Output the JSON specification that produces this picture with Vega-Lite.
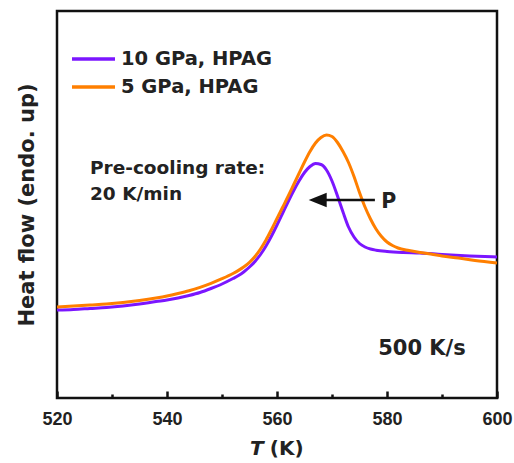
{
  "$schema": "https://vega.github.io/schema/vega-lite/v6.json",
  "width": 440,
  "height": 387,
  "autosize": "none",
  "padding": {"left": 57, "top": 11, "right": 17, "bottom": 65},
  "background": "white",
  "config": {
    "view": {"stroke": "#111", "strokeWidth": 2.5},
    "font": "DejaVu Sans"
  },
  "datasets": {
    "curves": [
      {"T": 520, "hf": 88, "series": "10 GPa, HPAG"},
      {"T": 523, "hf": 88.5, "series": "10 GPa, HPAG"},
      {"T": 526, "hf": 89.5, "series": "10 GPa, HPAG"},
      {"T": 529, "hf": 90.5, "series": "10 GPa, HPAG"},
      {"T": 532, "hf": 92, "series": "10 GPa, HPAG"},
      {"T": 535, "hf": 94, "series": "10 GPa, HPAG"},
      {"T": 538, "hf": 96.5, "series": "10 GPa, HPAG"},
      {"T": 540, "hf": 98, "series": "10 GPa, HPAG"},
      {"T": 542, "hf": 100, "series": "10 GPa, HPAG"},
      {"T": 544, "hf": 102.5, "series": "10 GPa, HPAG"},
      {"T": 546, "hf": 105.5, "series": "10 GPa, HPAG"},
      {"T": 548, "hf": 109.5, "series": "10 GPa, HPAG"},
      {"T": 550, "hf": 114, "series": "10 GPa, HPAG"},
      {"T": 552, "hf": 119.5, "series": "10 GPa, HPAG"},
      {"T": 553, "hf": 122.5, "series": "10 GPa, HPAG"},
      {"T": 554, "hf": 126.3, "series": "10 GPa, HPAG"},
      {"T": 555, "hf": 131, "series": "10 GPa, HPAG"},
      {"T": 556, "hf": 136.5, "series": "10 GPa, HPAG"},
      {"T": 557, "hf": 143.5, "series": "10 GPa, HPAG"},
      {"T": 558, "hf": 152, "series": "10 GPa, HPAG"},
      {"T": 559, "hf": 162, "series": "10 GPa, HPAG"},
      {"T": 560, "hf": 173, "series": "10 GPa, HPAG"},
      {"T": 561, "hf": 184.5, "series": "10 GPa, HPAG"},
      {"T": 562, "hf": 196, "series": "10 GPa, HPAG"},
      {"T": 563, "hf": 207, "series": "10 GPa, HPAG"},
      {"T": 564, "hf": 217, "series": "10 GPa, HPAG"},
      {"T": 565, "hf": 225.5, "series": "10 GPa, HPAG"},
      {"T": 566, "hf": 231.5, "series": "10 GPa, HPAG"},
      {"T": 567, "hf": 234.5, "series": "10 GPa, HPAG"},
      {"T": 568, "hf": 233.5, "series": "10 GPa, HPAG"},
      {"T": 569, "hf": 228, "series": "10 GPa, HPAG"},
      {"T": 570, "hf": 217, "series": "10 GPa, HPAG"},
      {"T": 571, "hf": 202, "series": "10 GPa, HPAG"},
      {"T": 572, "hf": 186, "series": "10 GPa, HPAG"},
      {"T": 573, "hf": 171, "series": "10 GPa, HPAG"},
      {"T": 574, "hf": 161, "series": "10 GPa, HPAG"},
      {"T": 575, "hf": 154.5, "series": "10 GPa, HPAG"},
      {"T": 576, "hf": 151, "series": "10 GPa, HPAG"},
      {"T": 577, "hf": 149, "series": "10 GPa, HPAG"},
      {"T": 578, "hf": 147.8, "series": "10 GPa, HPAG"},
      {"T": 580, "hf": 146.5, "series": "10 GPa, HPAG"},
      {"T": 583, "hf": 145.5, "series": "10 GPa, HPAG"},
      {"T": 586, "hf": 145, "series": "10 GPa, HPAG"},
      {"T": 590, "hf": 143.5, "series": "10 GPa, HPAG"},
      {"T": 595, "hf": 142, "series": "10 GPa, HPAG"},
      {"T": 600, "hf": 141, "series": "10 GPa, HPAG"},
      {"T": 520, "hf": 91, "series": "5 GPa, HPAG"},
      {"T": 523, "hf": 92, "series": "5 GPa, HPAG"},
      {"T": 526, "hf": 93, "series": "5 GPa, HPAG"},
      {"T": 529, "hf": 94, "series": "5 GPa, HPAG"},
      {"T": 532, "hf": 95.5, "series": "5 GPa, HPAG"},
      {"T": 535, "hf": 97.5, "series": "5 GPa, HPAG"},
      {"T": 538, "hf": 100, "series": "5 GPa, HPAG"},
      {"T": 540, "hf": 102, "series": "5 GPa, HPAG"},
      {"T": 542, "hf": 104.5, "series": "5 GPa, HPAG"},
      {"T": 544, "hf": 107.3, "series": "5 GPa, HPAG"},
      {"T": 546, "hf": 110.7, "series": "5 GPa, HPAG"},
      {"T": 548, "hf": 114.7, "series": "5 GPa, HPAG"},
      {"T": 550, "hf": 119.3, "series": "5 GPa, HPAG"},
      {"T": 552, "hf": 124.5, "series": "5 GPa, HPAG"},
      {"T": 553, "hf": 127.6, "series": "5 GPa, HPAG"},
      {"T": 554, "hf": 131.2, "series": "5 GPa, HPAG"},
      {"T": 555, "hf": 135.7, "series": "5 GPa, HPAG"},
      {"T": 556, "hf": 141.5, "series": "5 GPa, HPAG"},
      {"T": 557, "hf": 149, "series": "5 GPa, HPAG"},
      {"T": 558, "hf": 158, "series": "5 GPa, HPAG"},
      {"T": 559, "hf": 168.5, "series": "5 GPa, HPAG"},
      {"T": 560, "hf": 179.5, "series": "5 GPa, HPAG"},
      {"T": 561, "hf": 190.5, "series": "5 GPa, HPAG"},
      {"T": 562, "hf": 201.5, "series": "5 GPa, HPAG"},
      {"T": 563, "hf": 213, "series": "5 GPa, HPAG"},
      {"T": 564, "hf": 224.5, "series": "5 GPa, HPAG"},
      {"T": 565, "hf": 236, "series": "5 GPa, HPAG"},
      {"T": 566, "hf": 246.5, "series": "5 GPa, HPAG"},
      {"T": 567, "hf": 255, "series": "5 GPa, HPAG"},
      {"T": 568, "hf": 260.5, "series": "5 GPa, HPAG"},
      {"T": 569, "hf": 263, "series": "5 GPa, HPAG"},
      {"T": 570, "hf": 261.5, "series": "5 GPa, HPAG"},
      {"T": 571, "hf": 255.5, "series": "5 GPa, HPAG"},
      {"T": 572, "hf": 246.5, "series": "5 GPa, HPAG"},
      {"T": 573, "hf": 235.5, "series": "5 GPa, HPAG"},
      {"T": 574, "hf": 221.5, "series": "5 GPa, HPAG"},
      {"T": 575, "hf": 205.5, "series": "5 GPa, HPAG"},
      {"T": 576, "hf": 191, "series": "5 GPa, HPAG"},
      {"T": 577, "hf": 179, "series": "5 GPa, HPAG"},
      {"T": 578, "hf": 169, "series": "5 GPa, HPAG"},
      {"T": 579, "hf": 161.5, "series": "5 GPa, HPAG"},
      {"T": 580, "hf": 156, "series": "5 GPa, HPAG"},
      {"T": 581, "hf": 152.5, "series": "5 GPa, HPAG"},
      {"T": 582, "hf": 150, "series": "5 GPa, HPAG"},
      {"T": 584, "hf": 147.5, "series": "5 GPa, HPAG"},
      {"T": 586, "hf": 145.5, "series": "5 GPa, HPAG"},
      {"T": 588, "hf": 144, "series": "5 GPa, HPAG"},
      {"T": 590, "hf": 142, "series": "5 GPa, HPAG"},
      {"T": 593, "hf": 140, "series": "5 GPa, HPAG"},
      {"T": 596, "hf": 137.5, "series": "5 GPa, HPAG"},
      {"T": 600, "hf": 135, "series": "5 GPa, HPAG"}
    ],
    "notes": [
      {"T": 526, "hf": 224, "text": "Pre-cooling rate:"},
      {"T": 526, "hf": 198, "text": "20 K/min"}
    ],
    "rate": [
      {"T": 578.4, "hf": 43, "text": "500 K/s"}
    ],
    "arrow": [
      {"T": 567.4, "T2": 577.8, "hf": 198}
    ],
    "peak": [
      {"T": 580.3, "hf": 190, "text": "P"}
    ],
    "xsymbol": [
      {"T": 555.1, "hf": -57, "text": "T"}
    ],
    "xunit": [
      {"T": 558.7, "hf": -57, "text": "(K)"}
    ]
  },
  "layer": [
    {
      "data": {"name": "curves"},
      "mark": {"type": "line", "strokeWidth": 3, "interpolate": "monotone"},
      "encoding": {
        "x": {
          "field": "T",
          "type": "quantitative",
          "scale": {"domain": [520, 600], "nice": false},
          "axis": {
            "title": null,
            "values": [520, 530, 540, 550, 560, 570, 580, 590, 600],
            "labelExpr": "datum.value % 20 === 0 ? datum.label : ''",
            "grid": false,
            "domain": false,
            "tickColor": "#111",
            "tickWidth": 2.5,
            "tickSize": {"condition": {"test": "datum.value % 20 === 0", "value": -7}, "value": -4},
            "labelFont": "Liberation Sans",
            "labelFontWeight": "bold",
            "labelFontSize": 18,
            "labelColor": "#222",
            "labelPadding": 19,
            "labelFlush": false,
            "labelOverlap": false
          }
        },
        "y": {
          "field": "hf",
          "type": "quantitative",
          "scale": {"domain": [0, 387], "nice": false},
          "axis": {
            "title": "Heat flow (endo. up)",
            "labels": false,
            "ticks": false,
            "domain": false,
            "grid": false,
            "titleFont": "DejaVu Sans",
            "titleFontWeight": "bold",
            "titleFontSize": 21,
            "titleColor": "#222",
            "titlePadding": 20
          }
        },
        "color": {
          "field": "series",
          "type": "nominal",
          "scale": {"domain": ["10 GPa, HPAG", "5 GPa, HPAG"], "range": ["#7b16ff", "#ff7f00"]},
          "legend": {
            "title": null,
            "orient": "none",
            "legendX": 13,
            "legendY": 38,
            "symbolType": "stroke",
            "symbolSize": 1849,
            "symbolStrokeWidth": 3.5,
            "clipHeight": 20,
            "labelFont": "DejaVu Sans",
            "labelFontWeight": "bold",
            "labelFontSize": 19.5,
            "labelColor": "#222",
            "labelOffset": 4,
            "rowPadding": 8
          }
        }
      }
    },
    {
      "data": {"name": "arrow"},
      "mark": {"type": "rule", "strokeWidth": 2.5, "color": "#111"},
      "encoding": {
        "x": {"field": "T", "type": "quantitative"},
        "x2": {"field": "T2"},
        "y": {"field": "hf", "type": "quantitative"}
      }
    },
    {
      "data": {"name": "arrow"},
      "mark": {"type": "point", "shape": "M -1 0 L 1 -0.8 L 1 0.8 Z", "size": 324, "filled": true, "color": "#111", "opacity": 1},
      "encoding": {
        "x": {"field": "T", "type": "quantitative"},
        "y": {"field": "hf", "type": "quantitative"}
      }
    },
    {
      "data": {"name": "notes"},
      "mark": {"type": "text", "align": "left", "baseline": "alphabetic", "font": "DejaVu Sans", "fontWeight": "bold", "fontSize": 18.5, "color": "#222"},
      "encoding": {
        "x": {"field": "T", "type": "quantitative"},
        "y": {"field": "hf", "type": "quantitative"},
        "text": {"field": "text"}
      }
    },
    {
      "data": {"name": "rate"},
      "mark": {"type": "text", "align": "left", "baseline": "alphabetic", "font": "DejaVu Sans", "fontWeight": "bold", "fontSize": 21, "color": "#222"},
      "encoding": {
        "x": {"field": "T", "type": "quantitative"},
        "y": {"field": "hf", "type": "quantitative"},
        "text": {"field": "text"}
      }
    },
    {
      "data": {"name": "peak"},
      "mark": {"type": "text", "align": "center", "baseline": "alphabetic", "font": "DejaVu Sans", "fontWeight": "bold", "fontSize": 20.5, "color": "#222"},
      "encoding": {
        "x": {"field": "T", "type": "quantitative"},
        "y": {"field": "hf", "type": "quantitative"},
        "text": {"field": "text"}
      }
    },
    {
      "data": {"name": "xsymbol"},
      "mark": {"type": "text", "align": "left", "baseline": "alphabetic", "font": "DejaVu Sans", "fontWeight": "bold", "fontStyle": "italic", "fontSize": 20, "color": "#222"},
      "encoding": {
        "x": {"field": "T", "type": "quantitative"},
        "y": {"field": "hf", "type": "quantitative"},
        "text": {"field": "text"}
      }
    },
    {
      "data": {"name": "xunit"},
      "mark": {"type": "text", "align": "left", "baseline": "alphabetic", "font": "DejaVu Sans", "fontWeight": "bold", "fontSize": 20, "color": "#222"},
      "encoding": {
        "x": {"field": "T", "type": "quantitative"},
        "y": {"field": "hf", "type": "quantitative"},
        "text": {"field": "text"}
      }
    }
  ]
}
